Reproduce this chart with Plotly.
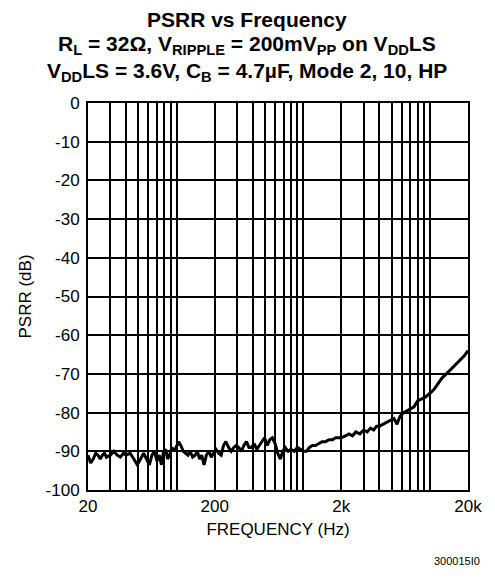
import plotly.graph_objects as go

# Frequency (Hz) and PSRR (dB)
freq = [20, 21, 22, 23, 24, 25, 26, 27, 28, 30, 32, 34, 36, 38, 40, 43, 46, 49, 52, 55,
        58, 61, 64, 67, 70, 73, 76, 79, 82, 85, 88, 92, 96, 100, 104, 108, 113, 118, 123, 128,
        134, 140, 146, 152, 158, 165, 172, 180, 188, 196, 205, 215, 225, 235, 245, 258, 270, 283, 296, 310,
        325, 340, 356, 373, 390, 410, 430, 450, 470, 495, 520, 545, 570, 600, 630, 660, 690, 720, 760, 800,
        850, 900, 950, 1000, 1060, 1120, 1180, 1250, 1330, 1410, 1500, 1600, 1700, 1800, 1900, 2000, 2150, 2300, 2450, 2600,
        2800, 3000, 3200, 3400, 3600, 3800, 4000, 4300, 4600, 4900, 5200, 5500, 5800, 6200, 6600, 7000, 7500, 8000, 8600, 9200,
        10000, 10800, 11600, 12500, 13500, 14500, 15500, 16500, 17500, 18700, 20000]
psrr = [-91, -93, -92, -90.5, -91, -92, -91, -90.5, -91.5, -91, -90, -91, -91.5, -90.5, -91, -90.5, -92, -93.5, -92, -90.5,
        -92, -93.5, -91, -90, -92.5, -91, -93.5, -90, -89.5, -92, -91, -89, -90, -88.5, -87.5, -88.5, -90, -90.5, -91, -90,
        -91.5, -91, -90, -92, -91, -93.5, -91, -90, -91.5, -90.5, -89.5, -90.5, -91, -88.5, -87.5, -89, -90, -89, -88.5, -89,
        -90, -88.5, -87.5, -89, -89, -88, -89.5, -88.5, -87.5, -86.5, -88.5, -87, -86.5, -88, -90.5, -92, -90, -89, -90, -89.5,
        -90, -89, -89.5, -90, -90, -89, -88.5, -88.5, -88, -87.5, -87.5, -87, -87, -86.5, -86.5, -86.5, -86, -85.5, -86, -85,
        -85.5, -84.5, -85, -84, -84.5, -83.5, -83.5, -83, -82.5, -82, -81.5, -83, -81, -80, -79.5, -79, -78.5, -77, -76.5, -76,
        -75, -74, -72.5, -71, -70, -69, -68, -67, -66.3, -65.3, -64]

x_grid = [20, 30, 40, 50, 60, 70, 80, 90, 100, 200, 300, 400, 500, 600, 700, 800, 900, 1000,
          2000, 3000, 4000, 5000, 6000, 7000, 8000, 9000, 10000, 20000]
x_labels = {20: "20", 200: "200", 2000: "2k", 20000: "20k"}
y_ticks = [0, -10, -20, -30, -40, -50, -60, -70, -80, -90, -100]
y_labels = ["0", "-10", "-20", "-30", "-40", "-50", "-60", "-70", "-80", "-90", "-100"]

FONT = "Liberation Sans, Arial, Helvetica, sans-serif"

fig = go.Figure()
fig.add_trace(go.Scatter(x=freq, y=psrr, mode="lines",
                         line=dict(color="black", width=3), showlegend=False))

# page body has an 8px margin, so the figure is sized to the rest of the window
fig.update_layout(
    width=487, height=571,
    margin=dict(l=80, r=27, t=95, b=89),
    paper_bgcolor="white", plot_bgcolor="white",
    font=dict(family=FONT, color="black", size=17),
)
fig.update_xaxes(
    type="log", range=[1.30103, 4.30103],
    tickvals=x_grid, ticktext=[x_labels.get(v, "") for v in x_grid],
    showgrid=True, gridcolor="black", gridwidth=1.8,
    showline=True, linecolor="black", linewidth=2, mirror=True,
    ticks="", tickfont=dict(size=17),
    title=dict(text="FREQUENCY (Hz)", font=dict(size=17), standoff=8),
)
fig.update_yaxes(
    range=[-100, 0], tickvals=y_ticks, ticktext=y_labels,
    showgrid=True, gridcolor="black", gridwidth=1.8,
    showline=True, linecolor="black", linewidth=2, mirror=True,
    ticks="", tickfont=dict(size=17), zeroline=False, ticklabelstandoff=3,
    title=dict(text="PSRR (dB)", font=dict(size=17), standoff=10),
)

titles = [
    "<b>PSRR vs Frequency</b>",
    "<b>R<sub>L</sub> = 32Ω, V<sub>RIPPLE</sub> = 200mV<sub>PP</sub> on V<sub>DD</sub>LS</b>",
    "<b>V<sub>DD</sub>LS = 3.6V, C<sub>B</sub> = 4.7µF, Mode 2, 10, HP</b>",
]
centers = [19, 45, 72]   # window pixel rows of the title lines
for t, c in zip(titles, centers):
    fig.add_annotation(text=t, xref="paper", yref="paper", x=(247 - 88) / 380, y=1 + (103 - c) / 387,
                       xanchor="center", yanchor="middle", showarrow=False,
                       font=dict(size=21, family=FONT, color="black"))
fig.add_annotation(text="300015I0", xref="paper", yref="paper", x=(482 - 88) / 380, y=(490 - 561) / 387,
                   xanchor="right", yanchor="middle", showarrow=False,
                   font=dict(size=11, family=FONT, color="black"))

fig.write_html("out.html")
